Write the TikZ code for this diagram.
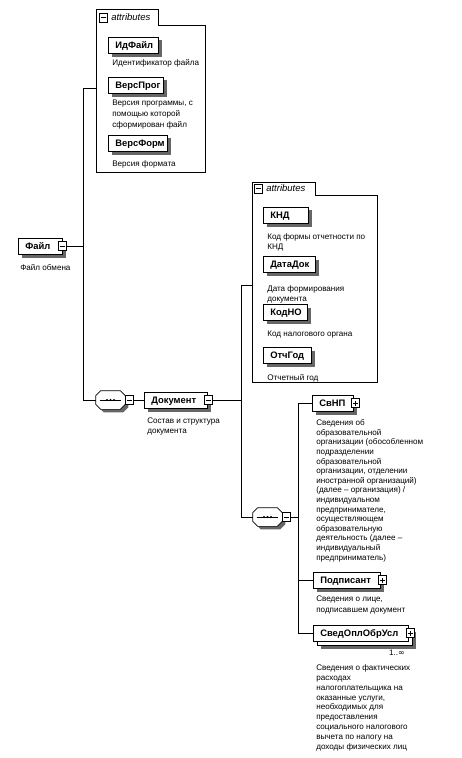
\documentclass[tikz,border=0pt]{standalone}
\usepackage{fontspec}
\setmainfont{Liberation Sans}
\newfontfamily\symfont{DejaVu Sans}
\usetikzlibrary{backgrounds}
\newcommand\octpath[3]{([xshift=5pt+#2,yshift=#3]#1.north west) -- ([xshift=-5pt+#2,yshift=#3]#1.north east)
  -- ([xshift=#2,yshift=-5pt+#3]#1.north east) -- ([xshift=#2,yshift=5pt+#3]#1.south east)
  -- ([xshift=-5pt+#2,yshift=#3]#1.south east) -- ([xshift=5pt+#2,yshift=#3]#1.south west)
  -- ([xshift=#2,yshift=5pt+#3]#1.south west) -- ([xshift=#2,yshift=-5pt+#3]#1.north west) -- cycle}
\begin{document}
\begin{tikzpicture}[x=1pt,y=-1pt,line width=0.6pt,
  shadowfill/.style={fill=black!60,draw=none},
  elem/.style={draw,fill=white,inner sep=0pt,minimum height=16pt,anchor=west,
    font=\fontsize{9.4}{10}\selectfont\bfseries,text height=6.8pt,text depth=0pt,
    execute at begin node={\hbox to #1\bgroup\hskip7pt},
    execute at end node={\hfil\egroup}},
  pm/.style={draw,fill=white,inner sep=0pt,minimum width=8pt,minimum height=9pt},
  minusbox/.style={pm,path picture={\draw[line width=0.6pt]
    ([xshift=-2.5pt]path picture bounding box.center) -- ([xshift=2.5pt]path picture bounding box.center);}},
  plusbox/.style={pm,path picture={\draw[line width=0.6pt]
    ([xshift=-2.5pt]path picture bounding box.center) -- ([xshift=2.5pt]path picture bounding box.center)
    ([yshift=-2.5pt]path picture bounding box.center) -- ([yshift=2.5pt]path picture bounding box.center);}},
  desc/.style={anchor=north west,inner sep=0pt,align=left,font=\fontsize{8.1}{#1}\selectfont},
  desc/.default=9.6,
  tabtext/.style={anchor=west,inner sep=0pt,font=\fontsize{9.5}{10}\selectfont\itshape},
  seqbox/.style={inner sep=0pt,minimum width=29pt,minimum height=18pt}
]
\useasboundingbox (0,0) rectangle (461,758);

% ---------- attributes of Файл ----------
\draw (96,172) -- (96,9) -- (158,9) -- (158,25) -- (205,25) -- (205,172) -- cycle;
\node[minusbox] (t1m) at (103,17.5) {};
\node[tabtext] (t1) at (111,17.5) {attributes};
\coordinate (attr1in) at (96,88);

\node[elem=50pt] (idf) at (108,45) {ИдФайл};
\node[desc=11] (idfd) at (112,59.5) {Идентификатор файла};
\node[elem=55pt] (vp) at (108,85) {ВерсПрог};
\node[desc=11] (vpd) at (112,99.5) {Версия программы, с\\помощью которой\\сформирован файл};
\node[elem=59pt] (vf) at (108,143) {ВерсФорм};
\node[desc=11] (vfd) at (112,160.5) {Версия формата};

% ---------- Файл ----------
\node[elem=44pt] (file) at (18,246) {Файл};
\node[minusbox] (filem) at (62,246) {};
\node[desc] (filed) at (20,264) {Файл обмена};

\coordinate (b1top) at (83,88);
\coordinate (b1bot) at (83,400);
\draw (filem.east) -- (filem.east -| b1top);
\draw (b1top) -- (b1bot);
\draw (b1top) -- (attr1in);

% ---------- sequence 1 ----------
\node[seqbox] (seq1) at (110.5,400) {};
\fill[shadowfill] \octpath{seq1}{3pt}{-3pt};
\draw[fill=white] \octpath{seq1}{0pt}{0pt};
\draw ([xshift=4pt]seq1.west) -- ([xshift=-4pt]seq1.east);
\foreach \dx in {-3.5,0,3.5} \fill ([xshift=\dx pt]seq1.center) circle (1.2);
\node[minusbox] (seq1m) at (129,400) {};
\draw (b1bot) -- (seq1.west);

% ---------- Документ ----------
\node[elem=63pt] (doc) at (144,400) {Документ};
\node[minusbox] (docm) at (208,400) {};
\node[desc=10.5] (docd) at (147,417.5) {Состав и структура\\документа};
\draw (seq1m.east) -- (doc.west);

\coordinate (b2top) at (241,285);
\coordinate (b2bot) at (241,517);
\draw (docm.east) -- (docm.east -| b2top);
\draw (b2top) -- (b2bot);

% ---------- attributes of Документ ----------
\draw (252,382) -- (252,182) -- (315,182) -- (315,195) -- (377,195) -- (377,382) -- cycle;
\node[minusbox] (t2m) at (258,188.5) {};
\node[tabtext] (t2) at (266,188.5) {attributes};
\coordinate (attr2in) at (252,285);
\draw (b2top) -- (attr2in);

\node[elem=45pt] (knd) at (263,215) {КНД};
\node[desc=10] (kndd) at (267,233.5) {Код формы отчетности по\\КНД};
\node[elem=52pt] (dd) at (263,264.5) {ДатаДок};
\node[desc=10] (ddd) at (267,285.5) {Дата формирования\\документа};
\node[elem=44pt] (kno) at (263,312.5) {КодНО};
\node[desc=10] (knod) at (267,330.5) {Код налогового органа};
\node[elem=48pt] (og) at (263,355.5) {ОтчГод};
\node[desc=10] (ogd) at (267,374.5) {Отчетный год};

% ---------- sequence 2 ----------
\node[seqbox] (seq2) at (267.5,517) {};
\fill[shadowfill] \octpath{seq2}{3pt}{-3pt};
\draw[fill=white] \octpath{seq2}{0pt}{0pt};
\draw ([xshift=4pt]seq2.west) -- ([xshift=-4pt]seq2.east);
\foreach \dx in {-3.5,0,3.5} \fill ([xshift=\dx pt]seq2.center) circle (1.2);
\node[minusbox] (seq2m) at (286,517) {};
\draw (b2bot) -- (seq2.west);

\coordinate (b3top) at (298,403);
\coordinate (b3bot) at (298,633);
\draw (seq2m.east) -- (seq2m.east -| b3top);
\draw (b3top) -- (b3bot);

% ---------- children ----------
\node[elem=41pt] (svnp) at (312,403) {СвНП};
\node[plusbox] (svnpp) at (355,403) {};
\node[desc] (svnpd) at (316,419.5) {Сведения об\\образовательной\\организации (обособленном\\подразделении\\образовательной\\организации, отделении\\иностранной организаций)\\(далее -- организация) /\\индивидуальном\\предпринимателе,\\осуществляющем\\образовательную\\деятельность (далее --\\индивидуальный\\предприниматель)};
\draw (b3top) -- (svnp.west);

\node[elem=67pt] (podp) at (313,580) {Подписант};
\node[plusbox] (podpp) at (382,580) {};
\node[desc=11] (podpd) at (316,595.5) {Сведения о лице,\\подписавшем документ};
\draw (podp.west -| b3top) -- (podp.west);

\node[draw,fill=white,inner sep=0pt,minimum width=95pt,minimum height=17pt,anchor=west] (svback) at (317,637) {};
\node[elem=95pt] (svop) at (313,633) {СведОплОбрУсл};
\node[plusbox] (svopp) at (410,633) {};
\node[anchor=east,inner sep=0pt,font=\fontsize{8}{9}\selectfont] (mult) at (405,653) {1..{\symfont ∞}};
\node[desc=9.8] (svopd) at (316,664.5) {Сведения о фактических\\расходах\\налогоплательщика на\\оказанные услуги,\\необходимых для\\предоставления\\социального налогового\\вычета по налогу на\\доходы физических лиц};
\draw (b3bot) -- (svop.west);

% ---------- shadows ----------
\begin{pgfonlayer}{background}
\foreach \n in {idf,vp,vf,file,doc,knd,dd,kno,og,svnp,podp,svback}
  \fill[shadowfill] ([xshift=3.5pt,yshift=-3.5pt]\n.north west) rectangle ([xshift=3.5pt,yshift=-3.5pt]\n.south east);
\end{pgfonlayer}
\end{tikzpicture}
\end{document}
